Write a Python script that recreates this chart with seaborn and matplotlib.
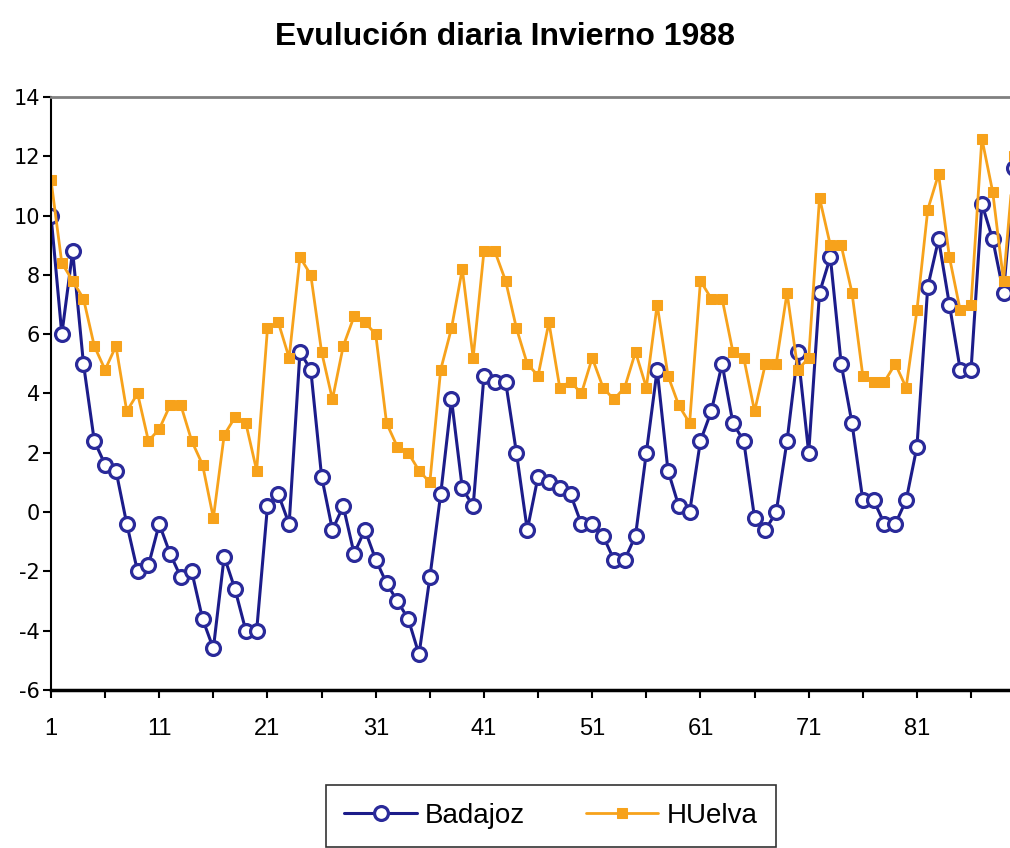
import pandas as pd
import matplotlib
matplotlib.use('Agg')
import matplotlib.pyplot as plt
import seaborn as sns

# datos (temperatura diaria, invierno 1988)
dias = list(range(1, 91))

badajoz = [10.0, 6.0, 8.8, 5.0, 2.4, 1.6, 1.4, -0.4, -2.0, -1.8,
           -0.4, -1.4, -2.2, -2.0, -3.6, -4.6, -1.5, -2.6, -4.0, -4.0,
           0.2, 0.6, -0.4, 5.4, 4.8, 1.2, -0.6, 0.2, -1.4, -0.6,
           -1.6, -2.4, -3.0, -3.6, -4.8, -2.2, 0.6, 3.8, 0.8, 0.2,
           4.6, 4.4, 4.4, 2.0, -0.6, 1.2, 1.0, 0.8, 0.6, -0.4,
           -0.4, -0.8, -1.6, -1.6, -0.8, 2.0, 4.8, 1.4, 0.2, 0.0,
           2.4, 3.4, 5.0, 3.0, 2.4, -0.2, -0.6, 0.0, 2.4, 5.4,
           2.0, 7.4, 8.6, 5.0, 3.0, 0.4, 0.4, -0.4, -0.4, 0.4,
           2.2, 7.6, 9.2, 7.0, 4.8, 4.8, 10.4, 9.2, 7.4, 11.6]

huelva = [11.2, 8.4, 7.8, 7.2, 5.6, 4.8, 5.6, 3.4, 4.0, 2.4,
          2.8, 3.6, 3.6, 2.4, 1.6, -0.2, 2.6, 3.2, 3.0, 1.4,
          6.2, 6.4, 5.2, 8.6, 8.0, 5.4, 3.8, 5.6, 6.6, 6.4,
          6.0, 3.0, 2.2, 2.0, 1.4, 1.0, 4.8, 6.2, 8.2, 5.2,
          8.8, 8.8, 7.8, 6.2, 5.0, 4.6, 6.4, 4.2, 4.4, 4.0,
          5.2, 4.2, 3.8, 4.2, 5.4, 4.2, 7.0, 4.6, 3.6, 3.0,
          7.8, 7.2, 7.2, 5.4, 5.2, 3.4, 5.0, 5.0, 7.4, 4.8,
          5.2, 10.6, 9.0, 9.0, 7.4, 4.6, 4.4, 4.4, 5.0, 4.2,
          6.8, 10.2, 11.4, 8.6, 6.8, 7.0, 12.6, 10.8, 7.8, 12.0]

etiquetas_x = [1, 11, 21, 31, 41, 51, 61, 71, 81]

df = pd.DataFrame({'dia': dias, 'Badajoz': badajoz, 'HUelva': huelva})

sns.set_style('white')
plt.rcParams['font.family'] = ['Liberation Sans', 'DejaVu Sans']
plt.rcParams['text.color'] = 'black'
plt.rcParams['xtick.color'] = 'black'
plt.rcParams['ytick.color'] = 'black'

fig = plt.figure(figsize=(10.1, 8.48), dpi=100)
# el area del grafico se sale por la derecha, como en el original
ax = fig.add_axes([51 / 1010, 158 / 848, 985 / 1010, 593 / 848])

sns.lineplot(data=df, x='dia', y='Badajoz', ax=ax, color='#1c1c8a', lw=2.2,
             marker='o', markersize=10, mfc='white', mec='#2a2a9a', mew=2.3,
             label='Badajoz')
sns.lineplot(data=df, x='dia', y='HUelva', ax=ax, color='#f7a21b', lw=2.0,
             marker='s', markersize=7, mfc='#f7a21b', mec='#f7a21b',
             label='HUelva')

ax.set_xlim(1, 92)
ax.set_ylim(-6, 14)
ax.set_yticks(range(-6, 15, 2))
ax.set_yticklabels([str(v) for v in range(-6, 15, 2)],
                   fontsize=15, family=['DejaVu Sans'])
ax.set_xticks(range(1, 92, 5))
ax.set_xticklabels([str(d) if d in etiquetas_x else '' for d in range(1, 92, 5)],
                   fontsize=17)
ax.tick_params(axis='both', direction='out', length=6, width=1.5, color='black',
               bottom=True, left=True)
ax.tick_params(axis='x', pad=14)
ax.tick_params(axis='y', pad=2)
ax.set_xlabel('')
ax.set_ylabel('')

ax.spines['right'].set_visible(False)
ax.spines['top'].set_color('#808080')
ax.spines['top'].set_linewidth(2)
ax.spines['left'].set_color('black')
ax.spines['left'].set_linewidth(1.5)
ax.spines['bottom'].set_color('black')
ax.spines['bottom'].set_linewidth(2.5)

ax.get_legend().remove()
handles, labels = ax.get_legend_handles_labels()
leg = fig.legend(handles, labels, loc='upper center', ncol=2,
                 bbox_to_anchor=(551 / 1010, 77 / 848), fontsize=20,
                 frameon=True, fancybox=False, edgecolor='black',
                 borderpad=0.65, handlelength=2.6, columnspacing=2.2,
                 handletextpad=0.3)
leg.get_frame().set_linewidth(1.2)

fig.text(505 / 1010, 1 - 37 / 848, 'Evulución diaria Invierno 1988',
         ha='center', va='center', fontsize=23, fontweight='bold')

plt.savefig('out.png', dpi=100)
